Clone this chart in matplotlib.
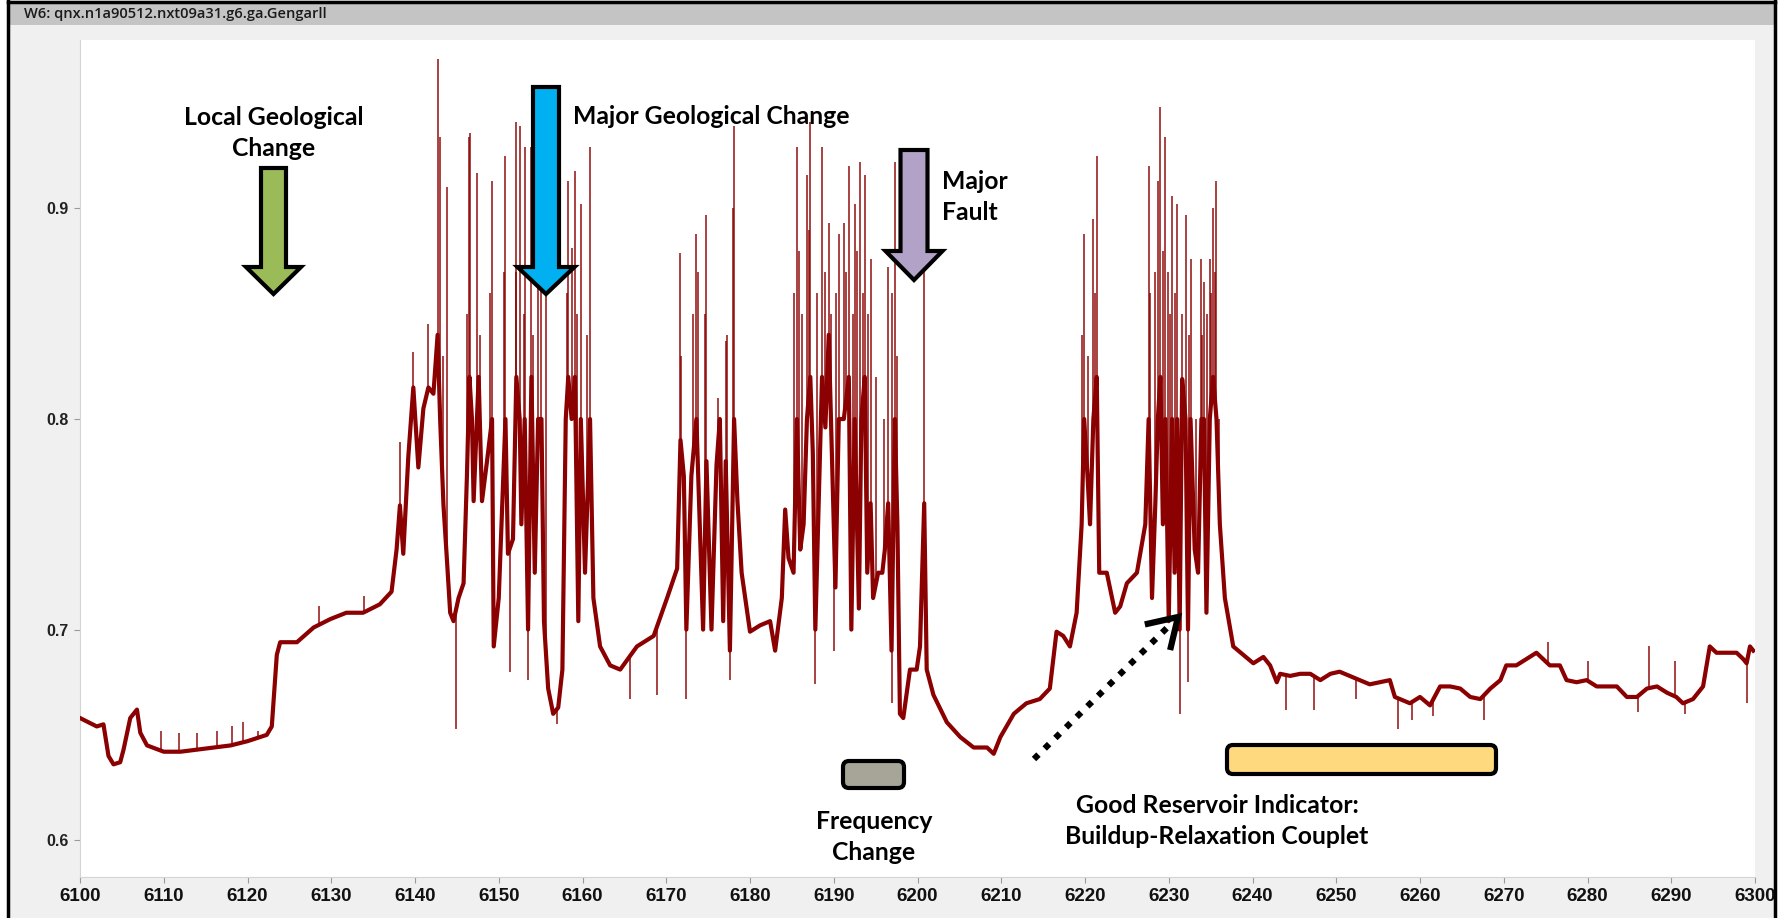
"""Resistivity-style trace with geological annotations."""

import numpy as np
import matplotlib.pyplot as plt
from matplotlib.patches import Polygon, FancyBboxPatch, Rectangle
from matplotlib.lines import Line2D
from matplotlib.transforms import IdentityTransform

W, H = 1787, 918

# data (depth, value)

trend_depth = [
    6100.0, 6101.0, 6102.0, 6102.8, 6103.4, 6104.0, 6104.8, 6105.2, 6106.0, 6106.8,
    6107.2, 6108.0, 6110.0, 6112.0, 6114.0, 6116.0, 6118.0, 6120.0, 6122.3, 6122.9,
    6123.5, 6123.9, 6125.9, 6127.9, 6129.9, 6131.8, 6133.8, 6135.8, 6137.2, 6137.8,
    6138.2, 6138.6, 6139.2, 6139.8, 6140.4, 6141.0, 6141.6, 6142.2, 6142.7, 6143.0,
    6143.4, 6143.8, 6144.2, 6144.6, 6145.2, 6145.8, 6146.2, 6146.5, 6146.8, 6147.0,
    6147.6, 6148.0, 6148.6, 6149.2, 6149.4, 6150.0, 6150.8, 6151.1, 6151.7, 6152.1,
    6152.5, 6152.7, 6153.1, 6153.5, 6153.9, 6154.3, 6154.7, 6155.1, 6155.4, 6155.9,
    6156.5, 6157.1, 6157.6, 6158.0, 6158.3, 6158.7, 6159.1, 6159.5, 6159.8, 6160.3,
    6160.9, 6161.3, 6162.1, 6163.3, 6164.5, 6166.5, 6168.5, 6170.1, 6171.3, 6171.7,
    6172.1, 6172.4, 6173.0, 6173.6, 6174.0, 6174.4, 6174.8, 6175.4, 6176.0, 6176.4,
    6176.8, 6177.1, 6177.6, 6178.1, 6178.5, 6179.0, 6180.0, 6181.2, 6182.4, 6183.0,
    6183.8, 6184.2, 6184.6, 6185.2, 6185.6, 6186.0, 6186.4, 6186.8, 6187.2, 6187.5,
    6187.8, 6188.2, 6188.6, 6189.0, 6189.4, 6189.8, 6190.2, 6190.6, 6191.2, 6191.8,
    6192.1, 6192.5, 6193.0, 6193.3, 6193.7, 6194.0, 6194.4, 6194.7, 6195.3, 6195.8,
    6196.1, 6196.5, 6196.9, 6197.3, 6197.6, 6197.9, 6198.3, 6199.1, 6199.9, 6200.3,
    6200.8, 6201.1, 6201.9, 6203.5, 6205.1, 6206.7, 6208.3, 6209.1, 6209.9, 6211.5,
    6213.0, 6214.6, 6215.8, 6216.6, 6217.4, 6218.2, 6219.0, 6219.6, 6219.9, 6220.3,
    6220.6, 6221.0, 6221.4, 6221.7, 6222.6, 6223.6, 6224.2, 6225.0, 6226.2, 6227.2,
    6227.6, 6228.0, 6228.4, 6228.7, 6229.0, 6229.3, 6229.6, 6230.0, 6230.4, 6230.7,
    6231.0, 6231.3, 6231.6, 6232.0, 6232.3, 6232.6, 6233.1, 6233.5, 6233.9, 6234.2,
    6234.5, 6234.9, 6235.3, 6235.7, 6236.1, 6236.7, 6237.7, 6238.9, 6240.1, 6241.3,
    6242.1, 6242.9, 6243.3, 6244.5, 6245.7, 6246.9, 6248.1, 6249.3, 6250.4, 6251.6,
    6252.8, 6254.0, 6255.2, 6256.4, 6257.0, 6257.6, 6258.8, 6260.0, 6261.2, 6262.4,
    6263.6, 6264.8, 6266.0, 6267.2, 6268.4, 6269.6, 6270.3, 6271.5, 6272.7, 6273.9,
    6274.7, 6275.5, 6276.7, 6277.5, 6278.7, 6279.9, 6281.1, 6282.3, 6283.5, 6284.7,
    6285.9, 6287.1, 6288.3, 6289.5, 6290.6, 6291.4, 6292.6, 6293.8, 6294.6, 6295.4,
    6296.6, 6297.8, 6298.6, 6299.0, 6299.4, 6299.8,
]
trend_value = [
    0.658, 0.656, 0.654, 0.655, 0.640, 0.636, 0.637, 0.643, 0.658, 0.662,
    0.651, 0.645, 0.642, 0.642, 0.643, 0.644, 0.645, 0.647, 0.650, 0.654,
    0.688, 0.694, 0.694, 0.701, 0.705, 0.708, 0.708, 0.712, 0.718, 0.738,
    0.759, 0.736, 0.782, 0.815, 0.777, 0.805, 0.815, 0.812, 0.840, 0.800,
    0.759, 0.734, 0.708, 0.704, 0.715, 0.722, 0.773, 0.820, 0.800, 0.761,
    0.820, 0.761, 0.780, 0.800, 0.692, 0.715, 0.800, 0.736, 0.743, 0.820,
    0.800, 0.750, 0.800, 0.700, 0.820, 0.727, 0.800, 0.800, 0.704, 0.672,
    0.660, 0.663, 0.681, 0.800, 0.820, 0.800, 0.820, 0.704, 0.800, 0.727,
    0.800, 0.715, 0.692, 0.683, 0.681, 0.692, 0.697, 0.715, 0.729, 0.790,
    0.773, 0.700, 0.773, 0.800, 0.750, 0.700, 0.780, 0.700, 0.778, 0.800,
    0.704, 0.780, 0.690, 0.800, 0.761, 0.727, 0.699, 0.702, 0.704, 0.690,
    0.715, 0.757, 0.734, 0.727, 0.800, 0.738, 0.750, 0.800, 0.820, 0.784,
    0.700, 0.761, 0.820, 0.796, 0.840, 0.780, 0.720, 0.800, 0.800, 0.820,
    0.700, 0.800, 0.710, 0.800, 0.820, 0.727, 0.760, 0.715, 0.727, 0.727,
    0.738, 0.760, 0.690, 0.800, 0.750, 0.660, 0.658, 0.681, 0.681, 0.692,
    0.760, 0.681, 0.669, 0.656, 0.649, 0.644, 0.644, 0.641, 0.649, 0.660,
    0.665, 0.667, 0.672, 0.699, 0.697, 0.692, 0.708, 0.750, 0.800, 0.773,
    0.750, 0.800, 0.820, 0.727, 0.727, 0.708, 0.711, 0.722, 0.727, 0.750,
    0.800, 0.715, 0.760, 0.800, 0.820, 0.750, 0.800, 0.704, 0.800, 0.727,
    0.800, 0.700, 0.819, 0.800, 0.700, 0.800, 0.738, 0.727, 0.800, 0.800,
    0.708, 0.800, 0.820, 0.800, 0.750, 0.715, 0.692, 0.688, 0.684, 0.687,
    0.683, 0.675, 0.679, 0.678, 0.679, 0.679, 0.676, 0.679, 0.680, 0.678,
    0.676, 0.674, 0.675, 0.676, 0.668, 0.667, 0.665, 0.668, 0.664, 0.673,
    0.673, 0.672, 0.668, 0.667, 0.672, 0.676, 0.683, 0.683, 0.686, 0.689,
    0.686, 0.683, 0.683, 0.676, 0.675, 0.676, 0.673, 0.673, 0.673, 0.668,
    0.668, 0.672, 0.673, 0.670, 0.668, 0.665, 0.667, 0.673, 0.692, 0.689,
    0.689, 0.689, 0.686, 0.684, 0.692, 0.690,
]

# sharp excursions: depth and tip value
spike_depth = [
    6109.7, 6111.8, 6114.0, 6116.3, 6118.2, 6119.5, 6121.3, 6128.5, 6133.9,
    6138.2, 6139.8, 6141.6, 6142.7, 6143.0, 6143.8, 6144.9, 6146.4, 6146.6,
    6147.4, 6149.2, 6150.8, 6151.3, 6152.1, 6152.5, 6153.1, 6153.5, 6153.9,
    6154.7, 6155.1, 6155.6, 6157.0, 6158.3, 6158.7, 6159.1, 6159.8, 6160.9,
    6165.7, 6168.9, 6171.7, 6172.4, 6173.6, 6174.8, 6177.1, 6177.6, 6178.1,
    6185.6, 6186.8, 6187.2, 6187.8, 6188.6, 6189.4, 6190.0, 6190.6, 6191.2,
    6191.8, 6192.5, 6193.1, 6193.7, 6194.4, 6196.5, 6196.9, 6197.3, 6200.8,
    6219.9, 6221.0, 6221.4, 6227.6, 6228.7, 6229.0, 6229.6, 6230.4, 6231.0,
    6231.3, 6232.0, 6232.3, 6232.6, 6233.9, 6234.2, 6234.9, 6235.3, 6235.7,
    6244.0, 6247.3, 6252.3, 6257.4, 6259.0, 6261.5, 6267.7, 6275.3, 6280.0,
    6286.0, 6287.3, 6290.5, 6291.6, 6299.0,
    6143.4, 6146.2, 6147.8, 6149.0, 6150.6, 6152.0, 6153.0, 6154.1, 6158.1,
    6159.3, 6160.5, 6171.8, 6173.2, 6173.8, 6174.6, 6176.2, 6177.2, 6178.0,
    6185.2, 6185.9, 6186.2, 6187.0, 6188.0, 6188.9, 6189.7, 6190.3, 6191.5,
    6192.3, 6192.8, 6193.5, 6194.1, 6195.0, 6196.0, 6197.0, 6197.6,
    6219.7, 6220.4, 6221.2, 6227.8, 6228.3, 6229.3, 6229.9, 6230.2, 6230.8,
    6231.6, 6232.4, 6233.2, 6234.0, 6234.6, 6235.0, 6235.5, 6236.0,
]
spike_value = [
    0.652, 0.651, 0.651, 0.652, 0.654, 0.656, 0.652, 0.711, 0.716,
    0.789, 0.832, 0.845, 0.971, 0.934, 0.910, 0.653, 0.934, 0.936,
    0.917, 0.913, 0.925, 0.680, 0.941, 0.939, 0.929, 0.676, 0.929,
    0.911, 0.930, 0.940, 0.655, 0.913, 0.881, 0.918, 0.902, 0.929,
    0.667, 0.669, 0.879, 0.667, 0.888, 0.897, 0.837, 0.676, 0.939,
    0.929, 0.916, 0.941, 0.674, 0.929, 0.893, 0.690, 0.888, 0.893,
    0.920, 0.902, 0.922, 0.916, 0.876, 0.872, 0.665, 0.922, 0.870,
    0.888, 0.895, 0.925, 0.920, 0.913, 0.948, 0.934, 0.906, 0.902,
    0.660, 0.897, 0.675, 0.876, 0.876, 0.865, 0.876, 0.900, 0.913,
    0.662, 0.662, 0.667, 0.653, 0.657, 0.659, 0.657, 0.694, 0.685,
    0.661, 0.692, 0.685, 0.660, 0.665,
    0.830, 0.850, 0.840, 0.860, 0.870, 0.870, 0.850, 0.840, 0.860,
    0.850, 0.840, 0.830, 0.850, 0.870, 0.850, 0.810, 0.840, 0.900,
    0.860, 0.880, 0.850, 0.890, 0.860, 0.870, 0.850, 0.860, 0.870,
    0.850, 0.880, 0.860, 0.850, 0.820, 0.800, 0.860, 0.830,
    0.840, 0.830, 0.860, 0.860, 0.870, 0.880, 0.870, 0.850, 0.860,
    0.850, 0.840, 0.800, 0.840, 0.850, 0.860, 0.870, 0.800,
]

x_ticks = list(range(6100, 6301, 10))
y_ticks = [0.6, 0.7, 0.8, 0.9]

title = 'W6: qnx.n1a90512.nxt09a31.g6.ga.Gengarll'
line_color = '#8b0000'

#


def fx(x):
    return x / W


def fy(y):
    return 1 - y / H


fig = plt.figure(figsize=(W / 100, H / 100), dpi=100, facecolor='white')

# window frame
fig.add_artist(Rectangle((fx(8), 0), fx(1775) - fx(8), 1, transform=fig.transFigure,
                         facecolor='#f0f0f0', edgecolor='none', zorder=-5))
fig.add_artist(Rectangle((fx(8), fy(25)), fx(1775) - fx(8), fy(1) - fy(25),
                         transform=fig.transFigure, facecolor='#c4c4c4',
                         edgecolor='none', zorder=-4))
fig.text(fx(24), fy(14), title, fontsize=10.5, family='Open Sans', weight='semibold',
         color='#1a1a1a', va='center', ha='left')
for xs, ys in [([8, 8], [1, 918]), ([1775, 1775], [1, 918]), ([8, 1775], [2, 2])]:
    fig.add_artist(Line2D([fx(v) for v in xs], [fy(v) for v in ys], color='black',
                          lw=2.5, transform=fig.transFigure, zorder=20))

ax = fig.add_axes([fx(80), fy(877), fx(1755) - fx(80), fy(40) - fy(877)])
ax.set_facecolor('white')

ax.plot(trend_depth, trend_value, color=line_color, lw=3.0, zorder=3)
spike_base = np.interp(spike_depth, trend_depth, trend_value)
ax.vlines(spike_depth, spike_base, spike_value, color=line_color, lw=1.3,
          alpha=0.8, zorder=2)

ax.set_xlim(6100, 6300)
ax.set_ylim(0.5825, 0.980)
ax.set_xticks(x_ticks)
ax.set_xticklabels([str(t) for t in x_ticks], family=['Liberation Sans Narrow', 'Liberation Sans'],
                   weight='bold', fontsize=13.5, color='#111111')
ax.set_yticks(y_ticks)
ax.set_yticklabels(['%.1f' % t for t in y_ticks], family='Liberation Sans',
                   weight='bold', fontsize=11.5, color='#222222')
ax.tick_params(length=4, width=0.8, color='#9a9a9a', pad=4)
for side in ['top', 'right']:
    ax.spines[side].set_visible(False)
for side in ['left', 'bottom']:
    ax.spines[side].set_color('#d4d4d4')

# annotations (pixel positions, y downwards)


def down_arrow(cx, top, tip, shaft_w, head_w, head_len, color):
    pts = [(cx - shaft_w / 2, top), (cx + shaft_w / 2, top),
           (cx + shaft_w / 2, tip - head_len), (cx + head_w / 2, tip - head_len),
           (cx, tip), (cx - head_w / 2, tip - head_len),
           (cx - shaft_w / 2, tip - head_len)]
    fig.add_artist(Polygon([(fx(x), fy(y)) for x, y in pts], closed=True,
                           transform=fig.transFigure, facecolor=color,
                           edgecolor='black', lw=3, joinstyle='miter', zorder=10))


def box(x0, y0, x1, y1, color):
    fig.add_artist(FancyBboxPatch((x0, H - y1), x1 - x0, y1 - y0,
                                  boxstyle='round,pad=0,rounding_size=6',
                                  transform=IdentityTransform(), facecolor=color,
                                  edgecolor='black', lw=3, zorder=10))


def label(x, y, s, ha='center'):
    fig.text(fx(x), fy(y), s, ha=ha, va='center', fontsize=17.8, family='Lato',
             weight='bold', color='black', linespacing=1.45, zorder=11)


down_arrow(273.5, 168, 294, 25, 55, 27, '#9bbb59')
down_arrow(546, 87, 294, 26, 57, 27, '#00b0f0')
down_arrow(914, 150, 280, 27, 57, 29, '#b3a2c7')

box(843, 761, 904, 788, '#a6a597')
box(1227, 745, 1496, 774, '#ffd97d')

label(273.5, 133, 'Local Geological\nChange')
label(573, 117, 'Major Geological Change', ha='left')
label(942, 197, 'Major\nFault', ha='left')
label(874, 837, 'Frequency\nChange')
label(1217, 821, 'Good Reservoir Indicator:\nBuildup-Relaxation Couplet')

# dotted pointer with open head
start = np.array([1034.0, 759.0])
tip = np.array([1178.0, 617.0])
d = (tip - start) / np.linalg.norm(tip - start)
stop = tip - 8 * d
fig.add_artist(Line2D([fx(start[0]), fx(stop[0])], [fy(start[1]), fy(stop[1])],
                      color='black', lw=4.5, dashes=[1, 1.4], dash_capstyle='butt',
                      transform=fig.transFigure, zorder=10))
arms = []
for ang in (np.radians(32), -np.radians(32)):
    rot = np.array([[np.cos(ang), -np.sin(ang)], [np.sin(ang), np.cos(ang)]])
    arms.append(tip - 34 * rot.dot(d))
fig.add_artist(Line2D([fx(arms[0][0]), fx(tip[0]), fx(arms[1][0])],
                      [fy(arms[0][1]), fy(tip[1]), fy(arms[1][1])],
                      color='black', lw=4.5, solid_joinstyle='miter',
                      solid_capstyle='butt', transform=fig.transFigure, zorder=10))

plt.savefig('out.png', dpi=100, facecolor=fig.get_facecolor())
